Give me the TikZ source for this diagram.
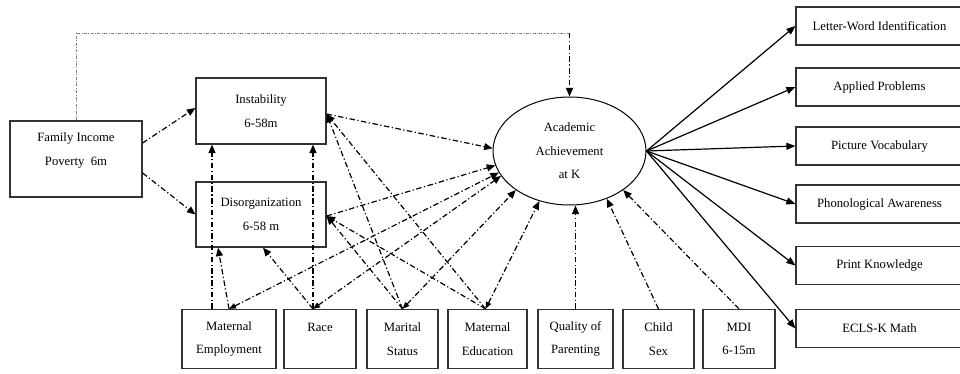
\documentclass[tikz,border=0pt]{standalone}
\usepackage{fontspec}
\setmainfont{Liberation Serif}
\usetikzlibrary{arrows.meta,shapes.geometric}
\begin{document}
\begin{tikzpicture}[x=1pt,y=-1pt,
		font=\fontsize{12.7}{23.5}\selectfont,
		varbox/.style={draw=black!80,line width=1.2pt,align=center,inner sep=0pt},
		dashlink/.style={line width=1.2pt,dash pattern=on 5.5pt off 2.5pt on 1.2pt off 2.5pt,-{Triangle[length=8.5pt,width=7pt]}},
		dashboth/.style={dashlink,{Triangle[length=7pt,width=5.5pt]}-{Triangle[length=8.5pt,width=7pt]}},
		solidlink/.style={line width=1.2pt,-{Triangle[length=9pt,width=7pt]}}]
	\useasboundingbox (0,0) rectangle (960,374);
	% predictors
	\node[varbox,minimum width=132pt,minimum height=76pt,text depth=20pt] (inc) at (76,159) {Family Income\\Poverty~~6m};
	\node[varbox,minimum width=130pt,minimum height=66pt] (ins) at (261,111) {Instability\\6-58m};
	\node[varbox,minimum width=130pt,minimum height=65pt] (dis) at (261,214.5) {Disorganization\\6-58 m};
	\node[draw,line width=1pt,ellipse,inner sep=0pt,align=center,minimum width=153pt,minimum height=108pt] (ach) at (569.5,151) {Academic\\Achievement\\at K};
	% covariates
	\foreach \n/\x/\w/\t in {me/229/94/{Maternal\\Employment},race/320/72/{Race\\~},mar/402.5/71/{Marital\\Status},med/487.5/79/{Maternal\\Education},qop/575.5/75/{Quality of\\Parenting},sex/658.5/71/{Child\\Sex},mdi/739/72/{MDI\\6-15m}}
	\node[varbox,minimum width=\w pt,minimum height=59pt] (\n) at (\x,339) {\t};
	% outcomes
	\foreach \n/\y/\t in {lw/26/Letter-Word Identification,ap/87/Applied Problems,pv/146/Picture Vocabulary,pa/204/Phonological Awareness,pk/265.5/Print Knowledge,em/328.5/ECLS-K Math}
	\node[varbox,minimum width=167pt,minimum height=38pt] (\n) at (879.5,\y) {\t};
	\foreach \n in {lw,ap,pv,pa,pk,em}
	\draw[solidlink] (ach.east) -- (\n.west);
	% direct income path
	\coordinate (turn) at (569.5,33);
	\draw[gray,line width=0.6pt,dash pattern=on 3pt off 1.5pt on 0.8pt off 1.5pt] (inc.north) |- (turn);
	\draw[dashlink] (turn) -- (ach.north);
	\draw[dashlink] ([yshift=16pt]inc.east) -- ([yshift=3pt]ins.west);
	\draw[dashlink] ([yshift=-14pt]inc.east) -- (dis.west);
	\draw[dashlink] ([yshift=-3pt]ins.east) -- (ach.178);
	\draw[dashlink] ([yshift=-1.5pt]dis.east) -- (ach.191);
	% covariate paths
	\draw[dashlink] ([xshift=-17pt]me.north) -- ([xshift=-17pt]me.north |- ins.south);
	\draw[dashlink] ([xshift=-7pt]race.north) -- ([xshift=-7pt]race.north |- ins.south);
	\draw[dashlink] (me.north) -- ([xshift=-43pt]dis.south);
	\draw[dashlink] ([xshift=-7pt]race.north) -- ([xshift=2pt]dis.south);
	\foreach \s/\dx in {mar/0,med/-2}{
		\draw[dashlink] ([xshift=\dx pt]\s.north) -- ([yshift=-3pt]ins.east);
		\draw[dashlink] ([xshift=\dx pt]\s.north) -- ([yshift=-1.5pt]dis.east);
	}
	\foreach \s/\dx/\a in {me/0/197,race/-7/200,mar/0/216,med/-2/239}
	\draw[dashboth] ([xshift=\dx pt]\s.north) -- (ach.\a);
	\draw[dashlink] (qop.north) -- (qop.north |- ach.south);
	\draw[dashlink] (sex.north) -- (ach.308);
	\draw[dashlink] (mdi.north) -- (ach.324);
\end{tikzpicture}
\end{document}
